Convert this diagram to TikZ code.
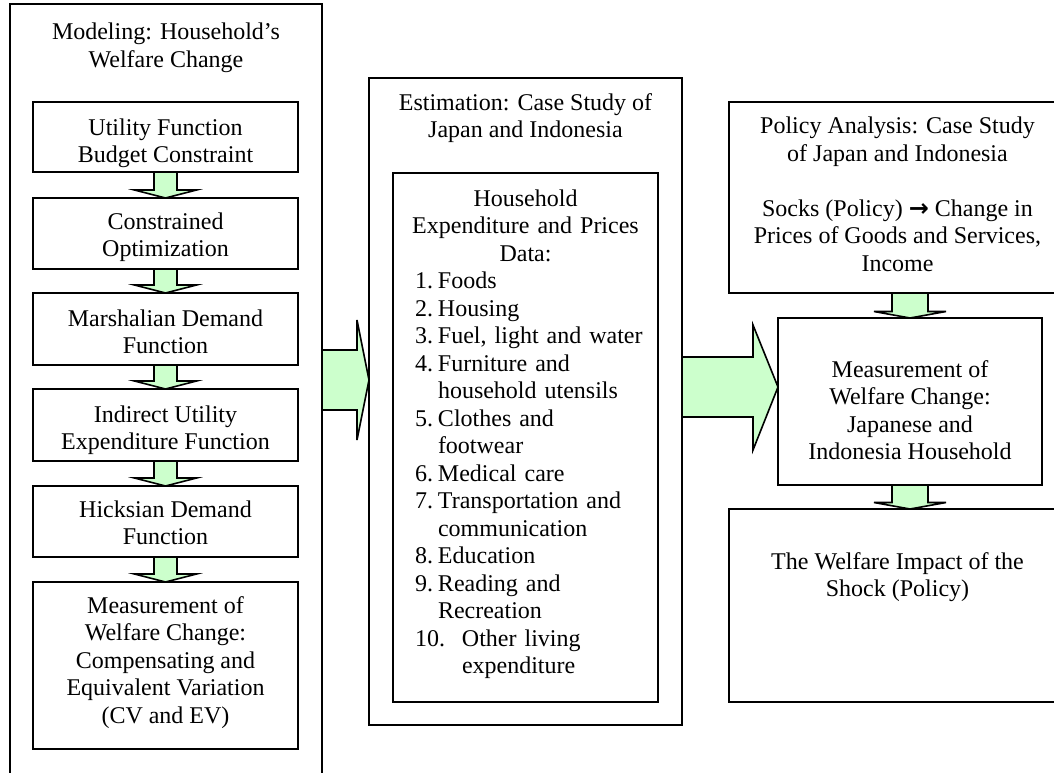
\documentclass[tikz,border=0pt]{standalone}
\usepackage{fontspec}
\setmainfont{Liberation Serif}
\newfontfamily\arrowfont{DejaVu Sans}
\usetikzlibrary{calc,backgrounds}
\definecolor{paleGreen}{RGB}{204,255,204}
\tikzstyle{box}=[draw, line width=1.6pt, fill=white, anchor=north, outer sep=0pt, inner xsep=0pt, inner ysep=0pt, align=center, font=\fontsize{24}{27.5}\selectfont]
\tikzstyle{fatarrow}=[draw, line width=1.6pt, fill=paleGreen, line join=miter]
\newcommand{\stage}{\node[box]}
\newcommand{\itm}[2]{\mbox{\hspace*{10pt}\makebox[23pt][l]{#1}#2}}
\newcommand{\cnt}[2][33pt]{\mbox{\hspace*{#1}#2}}

\begin{document}
\begin{tikzpicture}[x=1pt, y=-1pt]
	\useasboundingbox (0,0) rectangle (1054,772);
	\clip (0,0) rectangle (1054,772);
	%% modeling column
	\stage (model) at (166,4) [minimum width=312pt, text height=63pt, text depth=733pt, fill=none] {Modeling: Household's\\ Welfare Change};
	\stage (util) at (165.5,102) [minimum width=265pt, text height=60.5pt, text depth=9.5pt] {Utility Function\\ Budget Constraint};
	\stage (constr) at (165.5,198) [minimum width=265pt, text height=58.5pt, text depth=12.5pt] {Constrained\\ Optimization};
	\stage (marsh) at (165.5,293) [minimum width=265pt, text height=60.5pt, text depth=11.5pt] {Marshalian Demand\\ Function};
	\stage (indir) at (165.5,389) [minimum width=265pt, text height=60.5pt, text depth=11.5pt] {Indirect Utility\\ Expenditure Function};
	\stage (hicks) at (165.5,486) [minimum width=265pt, text height=58.5pt, text depth=12.5pt] {Hicksian Demand\\ Function};
	\stage (cveq) at (165.5,582) [minimum width=265pt, text height=141pt, text depth=26pt] {Measurement of\\ Welfare Change:\\ Compensating and\\ Equivalent Variation\\ (CV and EV)};
	%% estimation column
	\stage (estim) at (525.5,78) [minimum width=313pt, text height=59.5pt, text depth=587.5pt, fill=none] {Estimation: Case Study of\\ Japan and Indonesia};
	\stage (data) at (525.5,173) [text width=241pt, inner xsep=12pt, align=left, text height=33pt, text depth=496pt] {%
		{\centering Household\\ Expenditure and Prices\\ Data:\par}
		\noindent\itm{1.}{Foods}\\
		\itm{2.}{Housing}\\
		\itm{3.}{Fuel, light and water}\\
		\itm{4.}{Furniture and}\\
		\cnt{household utensils}\\
		\itm{5.}{Clothes and}\\
		\cnt{footwear}\\
		\itm{6.}{Medical care}\\
		\itm{7.}{Transportation and}\\
		\cnt{communication}\\
		\itm{8.}{Education}\\
		\itm{9.}{Reading and}\\
		\cnt{Recreation}\\
		\mbox{\hspace*{10pt}\makebox[47pt][l]{10.}Other living}\\
		\cnt[57pt]{expenditure}};
	%% policy column
	\stage (policy) at (897.5,102) [minimum width=337pt, text height=169pt, text depth=22pt] {Policy Analysis: Case Study\\ of Japan and Indonesia\\[27.5pt] Socks (Policy) {\arrowfont\bfseries →} Change in\\ Prices of Goods and Services,\\ Income};
	\stage (meas) at (910,318) [minimum width=264pt, text height=141.5pt, text depth=25.5pt] {Measurement of\\ Welfare Change:\\ Japanese and\\ Indonesia Household};
	\stage (impact) at (897.5,509) [minimum width=337pt, text height=87.8pt, text depth=105.2pt] {The Welfare Impact of the\\ Shock (Policy)};
	%% the block arrows
	\begin{scope}[on background layer]
	\foreach \a/\b in {util/constr, constr/marsh, marsh/indir, indir/hicks, hicks/cveq}
		\path[fatarrow] let \p1=(\a.south), \p2=(\b.north) in
			({\x2-11.5pt},\y1) -- ({\x2-11.5pt},{\y2+8pt}) -- ({\x2-31pt},{\y2+8pt}) -- (\x2,\y2)
			-- ({\x2+31pt},{\y2+8pt}) -- ({\x2+11.5pt},{\y2+8pt}) -- ({\x2+11.5pt},\y1);
	\foreach \a/\b in {policy/meas, meas/impact}
		\path[fatarrow] let \p1=(\a.south), \p2=(\b.north), \p3=(meas.south) in
			({\x3-18pt},\y1) -- ({\x3-18pt},{\y2+6.5pt}) -- ({\x3-36pt},{\y2+6.5pt}) -- (\x3,\y2)
			-- ({\x3+36pt},{\y2+6.5pt}) -- ({\x3+18pt},{\y2+6.5pt}) -- ({\x3+18pt},\y1);
	\path[fatarrow] let \p1=(model.east), \p2=(estim.west) in
		(\x1,{\y2+51.5pt}) -- ({\x2-12pt},{\y2+51.5pt}) -- ({\x2-12pt},{\y2+81.5pt}) -- (\x2,{\y2+21.5pt})
		-- ({\x2-12pt},{\y2-38.5pt}) -- ({\x2-12pt},{\y2-8.5pt}) -- (\x1,{\y2-8.5pt});
	\path[fatarrow] let \p1=(estim.east), \p2=(meas.west) in
		(\x1,{\y2+44.5pt}) -- ({\x2-25pt},{\y2+44.5pt}) -- ({\x2-25pt},{\y2+76.5pt}) -- (\x2,{\y2+14.5pt})
		-- ({\x2-25pt},{\y2-48.5pt}) -- ({\x2-25pt},{\y2-15.5pt}) -- (\x1,{\y2-15.5pt});
	\end{scope}
\end{tikzpicture}
\end{document}
